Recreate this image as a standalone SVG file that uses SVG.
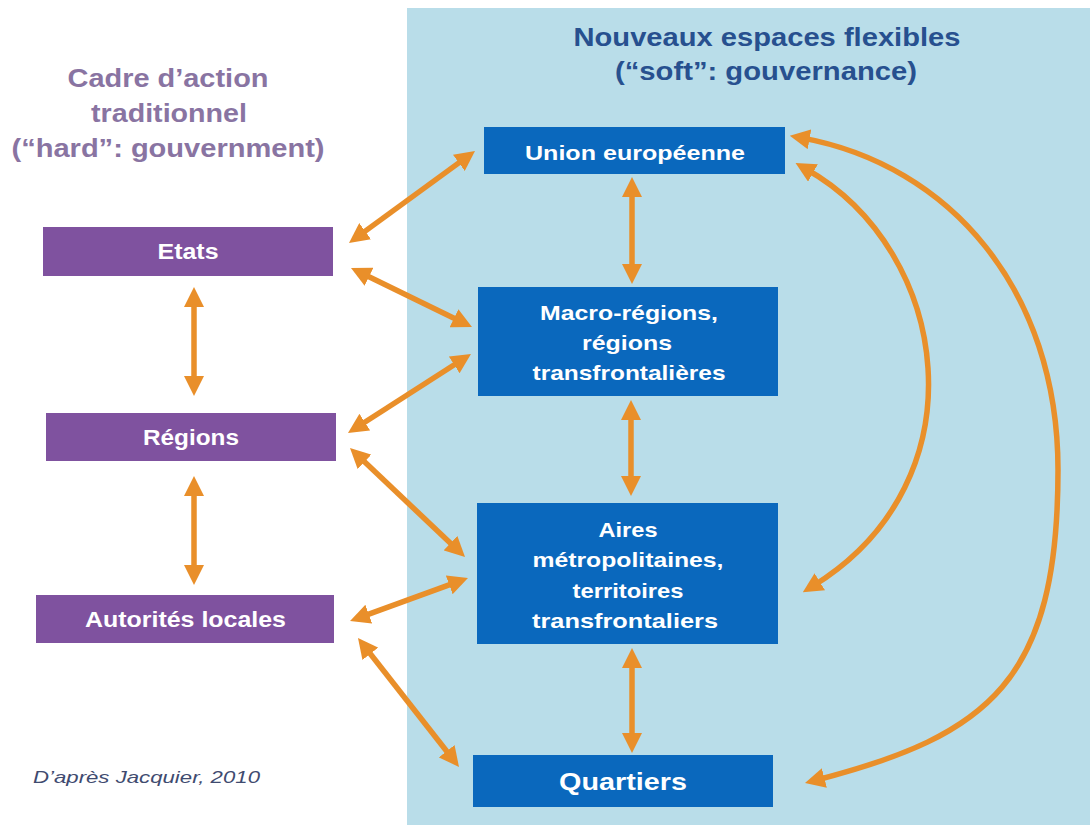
<svg xmlns="http://www.w3.org/2000/svg" width="1090" height="825" viewBox="0 0 1090 825">
  <style>
    .t { font-family: "Liberation Sans", Arial, sans-serif; font-weight: bold; text-anchor: middle; }
    .lt { fill: #8974a2; font-size: 26px; }
    .rt { fill: #27508f; font-size: 26px; }
    .pbox { fill: #7f529f; }
    .bbox { fill: #0a68bd; }
    .wt { fill: #ffffff; font-size: 21px; }
    .conn { stroke: #e98f2a; stroke-width: 5.5; fill: none; marker-start: url(#ah); marker-end: url(#ah); }
    .credit { font-family: "Liberation Sans", Arial, sans-serif; font-style: italic; font-size: 17px; fill: #3f4b70; }
  </style>
  <defs>
    <marker id="ah" viewBox="0 0 20 20" markerUnits="userSpaceOnUse" markerWidth="20" markerHeight="20" refX="8" refY="10" orient="auto-start-reverse">
      <path d="M0,0 L20,10 L0,20 z" fill="#e98f2a"/>
    </marker>
  </defs>
  <rect x="0" y="0" width="1090" height="825" fill="#ffffff"/>
  <rect id="panel" x="407" y="8" width="683" height="817" fill="#b9dde9"/>

  <g id="title-left">
    <text class="t lt" x="168" y="87" textLength="201" lengthAdjust="spacingAndGlyphs">Cadre d’action</text>
    <text class="t lt" x="169" y="122" textLength="156" lengthAdjust="spacingAndGlyphs">traditionnel</text>
    <text class="t lt" x="168" y="157" textLength="313" lengthAdjust="spacingAndGlyphs">(“hard”: gouvernment)</text>
  </g>
  <g id="title-right">
    <text class="t rt" x="767" y="46" textLength="387" lengthAdjust="spacingAndGlyphs">Nouveaux espaces flexibles</text>
    <text class="t rt" x="766" y="80" textLength="302" lengthAdjust="spacingAndGlyphs">(“soft”: gouvernance)</text>
  </g>

  <g id="connectors">
    <line class="conn" x1="358.7" y1="235.9" x2="465.3" y2="158.1"/>
    <line class="conn" x1="361.8" y1="273.3" x2="461.2" y2="321.7"/>
    <line class="conn" x1="358.1" y1="426.5" x2="460.9" y2="360.5"/>
    <line class="conn" x1="358.7" y1="456.3" x2="456.3" y2="548.7"/>
    <line class="conn" x1="361.3" y1="616.9" x2="456.7" y2="582.1"/>
    <line class="conn" x1="365.4" y1="647.5" x2="451.6" y2="757.5"/>
    <line class="conn" x1="194" y1="299" x2="194" y2="384"/>
    <line class="conn" x1="194" y1="488" x2="194" y2="573"/>
    <line class="conn" x1="632" y1="189" x2="632" y2="272"/>
    <line class="conn" x1="631" y1="412" x2="631" y2="484"/>
    <line class="conn" x1="632" y1="660" x2="632" y2="741"/>
    <path class="conn" d="M806,169 C950,250 985,480 813,586"/>
    <path class="conn" d="M801.6,137.9 C950,165 1058,290 1058,470 C1058,680 990,735 816.6,780"/>
  </g>

  <g id="etats">
    <rect class="pbox" x="43" y="227" width="290" height="49"/>
    <text class="t wt" style="font-size:22px" x="188" y="259" textLength="61" lengthAdjust="spacingAndGlyphs">Etats</text>
  </g>
  <g id="regions">
    <rect class="pbox" x="46" y="413" width="290" height="48"/>
    <text class="t wt" style="font-size:22px" x="191" y="445" textLength="96" lengthAdjust="spacingAndGlyphs">Régions</text>
  </g>
  <g id="autorites">
    <rect class="pbox" x="36" y="595" width="298" height="48"/>
    <text class="t wt" style="font-size:22px" x="185.5" y="627" textLength="201" lengthAdjust="spacingAndGlyphs">Autorités  locales</text>
  </g>

  <g id="ue">
    <rect class="bbox" x="484" y="127" width="301" height="47"/>
    <text class="t wt" x="635" y="160" textLength="220" lengthAdjust="spacingAndGlyphs">Union  européenne</text>
  </g>
  <g id="macro">
    <rect class="bbox" x="478" y="287" width="300" height="109"/>
    <text class="t wt" x="629" y="320" textLength="178" lengthAdjust="spacingAndGlyphs">Macro-régions,</text>
    <text class="t wt" x="627" y="350" textLength="90" lengthAdjust="spacingAndGlyphs">régions</text>
    <text class="t wt" x="629" y="380" textLength="193" lengthAdjust="spacingAndGlyphs">transfrontalières</text>
  </g>
  <g id="aires">
    <rect class="bbox" x="477" y="503" width="301" height="141"/>
    <text class="t wt" x="628" y="537" textLength="59" lengthAdjust="spacingAndGlyphs">Aires</text>
    <text class="t wt" x="628" y="567" textLength="191" lengthAdjust="spacingAndGlyphs">métropolitaines,</text>
    <text class="t wt" x="628" y="598" textLength="111" lengthAdjust="spacingAndGlyphs">territoires</text>
    <text class="t wt" x="625" y="628" textLength="186" lengthAdjust="spacingAndGlyphs">transfrontaliers</text>
  </g>
  <g id="quartiers">
    <rect class="bbox" x="473" y="755" width="300" height="52"/>
    <text class="t wt" style="font-size:24px" x="623" y="790" textLength="128" lengthAdjust="spacingAndGlyphs">Quartiers</text>
  </g>

  <text class="credit" x="33" y="783" textLength="227" lengthAdjust="spacingAndGlyphs">D’après Jacquier, 2010</text>
</svg>
